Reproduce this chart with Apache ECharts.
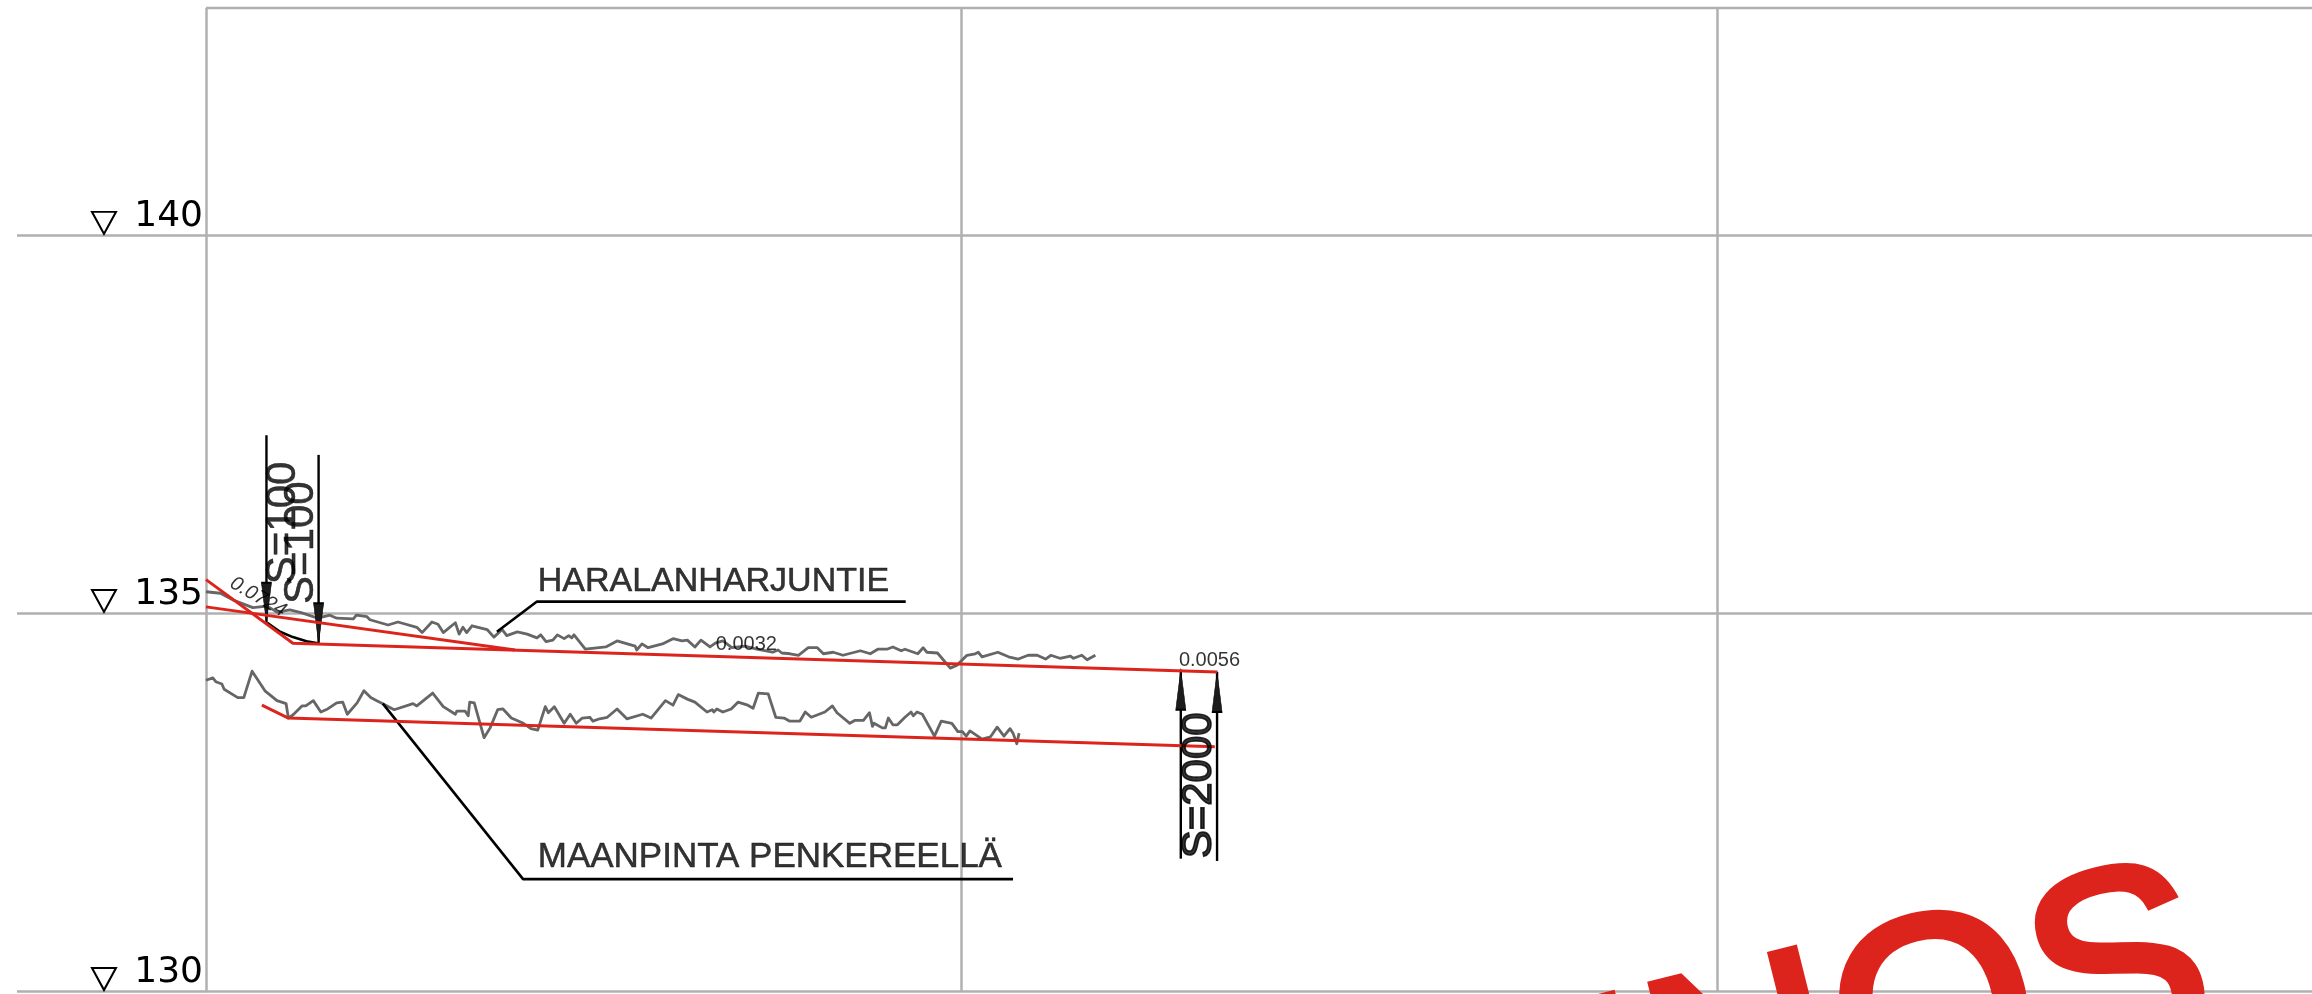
<!DOCTYPE html>
<html><head><meta charset="utf-8">
<style>html,body{margin:0;padding:0;background:#fff}#c{width:2312px;height:994px}</style>
<script src="https://cdn.jsdelivr.net/npm/echarts@6/dist/echarts.min.js"></script>
</head><body><div id="c"></div>
<script>
const levelTicks = [130, 135, 140];
const topLimit = [[0,143],[278.7,143]];
const roadSurface = [[0,135.44],[11.5,134.60],[133.8,134.22]];
const roadBranch = [[0,135.08],[40.9,134.51]];
const ditchLine = [[7.4,133.78],[10.9,133.61],[133.5,133.23]];
const curveLine = [[8.1,134.87],[9.8,134.75],[11.5,134.68],[13.5,134.62],[14.8,134.60]];
const groundRoad = [[0,135.28],[1.9,135.26],[3.6,135.17],[6.2,135.07],[8.1,135.09],[9.4,135.01],[11.1,135.04],[12.7,135.00],[14.8,134.93],[16.4,134.97],[17.3,134.93],[19.5,134.92],[19.9,134.97],[21.3,134.95],[21.7,134.91],[24.1,134.84],[25.4,134.88],[27.9,134.81],[28.6,134.74],[29.9,134.88],[30.7,134.85],[31.4,134.74],[33.0,134.87],[33.5,134.72],[34.0,134.81],[34.5,134.74],[35.2,134.83],[37.2,134.78],[38.1,134.68],[39.2,134.78],[39.8,134.70],[41.2,134.75],[42.5,134.72],[43.8,134.67],[44.3,134.71],[45.0,134.62],[45.9,134.64],[46.5,134.71],[47.4,134.66],[48.0,134.70],[48.4,134.67],[48.7,134.71],[50.2,134.52],[52.9,134.55],[54.4,134.63],[56.1,134.58],[56.8,134.56],[57.0,134.51],[57.7,134.59],[58.5,134.54],[60.4,134.59],[61.8,134.66],[63.0,134.63],[63.7,134.64],[64.7,134.55],[65.5,134.64],[66.7,134.55],[67.4,134.60],[68.4,134.63],[69.6,134.54],[71.3,134.56],[72.9,134.52],[75.0,134.48],[75.7,134.51],[76.2,134.47],[77.3,134.46],[78.4,134.44],[79.7,134.54],[80.9,134.54],[81.7,134.46],[83.0,134.48],[84.3,134.44],[86.6,134.50],[87.9,134.46],[88.9,134.52],[90.1,134.52],[90.9,134.55],[92.0,134.50],[92.5,134.52],[94.2,134.46],[94.9,134.54],[95.4,134.48],[96.8,134.47],[98.5,134.27],[99.4,134.31],[100.7,134.44],[101.8,134.46],[102.2,134.48],[102.7,134.42],[104.8,134.48],[106.2,134.42],[107.5,134.39],[108.8,134.44],[110.0,134.44],[111.1,134.39],[111.8,134.44],[113.0,134.40],[114.4,134.43],[114.8,134.40],[115.9,134.44],[116.6,134.38],[117.7,134.44]];
const groundEmbankment = [[0,134.11],[0.9,134.14],[1.3,134.09],[2.1,134.06],[2.4,133.99],[4.2,133.88],[5.0,133.88],[6.1,134.23],[7.8,133.97],[9.4,133.84],[10.6,133.80],[10.9,133.61],[11.5,133.65],[12.7,133.77],[13.2,133.77],[14.2,133.84],[15.2,133.69],[16.1,133.73],[17.3,133.81],[18.1,133.82],[18.7,133.66],[20.0,133.81],[20.9,133.97],[21.8,133.88],[22.6,133.84],[23.4,133.80],[24.9,133.72],[27.4,133.80],[27.9,133.77],[30.0,133.94],[31.4,133.76],[33.0,133.66],[33.2,133.70],[34.3,133.70],[34.7,133.64],[34.9,133.82],[35.5,133.81],[36.8,133.35],[37.6,133.48],[38.6,133.72],[39.3,133.73],[40.4,133.61],[42.0,133.54],[43.0,133.47],[43.9,133.45],[44.9,133.76],[45.3,133.68],[46.1,133.76],[47.4,133.54],[48.2,133.66],[49.0,133.54],[49.8,133.61],[50.8,133.62],[51.2,133.57],[52.1,133.60],[53.1,133.62],[54.4,133.73],[55.7,133.60],[57.8,133.66],[58.9,133.61],[60.8,133.84],[61.8,133.78],[62.5,133.92],[63.7,133.86],[64.7,133.82],[66.3,133.69],[67.0,133.72],[67.2,133.69],[67.6,133.73],[68.4,133.69],[69.5,133.73],[70.4,133.82],[71.7,133.78],[72.4,133.74],[73.1,133.94],[74.4,133.93],[75.4,133.62],[76.5,133.61],[77.2,133.57],[78.6,133.57],[79.3,133.69],[80.1,133.62],[81.9,133.69],[82.9,133.77],[83.5,133.68],[85.2,133.54],[85.9,133.58],[87.0,133.58],[87.8,133.68],[88.2,133.50],[88.4,133.54],[89.5,133.48],[89.9,133.48],[90.3,133.61],[90.9,133.52],[91.5,133.52],[92.5,133.62],[93.3,133.69],[93.6,133.64],[94.1,133.69],[94.8,133.66],[96.4,133.37],[97.3,133.57],[98.7,133.54],[99.5,133.43],[100.1,133.43],[100.6,133.37],[101.1,133.44],[102.7,133.33],[103.8,133.36],[104.7,133.49],[105.6,133.37],[106.4,133.47],[106.8,133.41],[107.3,133.27],[107.6,133.41]];
const leaderRoad = [[38.5,134.75],[43.8,135.15],[92.6,135.15]];
const leaderGround = [[23.4,133.80],[41.96,131.48],[106.8,131.48]];
const dimA = [[8.0,137.35],[8.0,134.87]];
const dimB = [[14.9,137.09],[14.9,134.60]];
const dimC = [[129.0,134.25],[129.0,131.75]];
const dimD = [[133.8,134.22],[133.8,131.72]];
const arrowsDown = [[8.0,134.87],[14.9,134.60]];
const arrowsUp = [[129.0,134.25],[133.8,134.22]];

const FONT = '"Liberation Sans", Arial, sans-serif';
const GRID = '#b0b0b0', RED = '#dc241c', GRAY = '#666666', BLACK = '#000000';
const clipFree = { silent: true, animation: false, z: 5 };

function line(data, color, width, z) {
  return Object.assign({}, clipFree, { type: 'line', data, symbol: 'none', clip: false, z: z || 5,
    lineStyle: { color, width, join: 'round' } });
}
function note(text, x, y, size, extra) {
  return Object.assign({}, clipFree, { type: 'scatter', symbolSize: 0, clip: false, z: 8,
    data: [[x, y]],
    label: Object.assign({ show: true, position: 'inside', formatter: text, fontFamily: FONT,
      fontSize: size, color: BLACK, align: 'center', verticalAlign: 'middle',
      textBorderColor: BLACK, textBorderWidth: 0.5 }, extra || {}) });
}
function arrows(data, rot, off) {
  return Object.assign({}, clipFree, { type: 'scatter', data, clip: false, symbol: 'triangle',
    symbolSize: [10, 40], symbolRotate: rot, symbolOffset: [0, off], z: 6,
    itemStyle: { color: '#1c1c1c', borderColor: BLACK, borderWidth: 1, opacity: 1 } });
}

const chart = echarts.init(document.getElementById('c'), null, { renderer: 'canvas' });
chart.setOption({
  animation: false,
  backgroundColor: '#ffffff',
  grid: { left: 206, right: 0, top: 8, bottom: 3, containLabel: false },
  xAxis: { type: 'value', min: 0, max: 278.7, interval: 100,
    axisLine: { show: false }, axisTick: { show: false }, axisLabel: { show: false },
    splitLine: { show: true, showMaxLine: false, lineStyle: { color: GRID, width: 2.5 } } },
  yAxis: { type: 'value', min: 130, max: 143, interval: 5,
    axisLine: { show: false },
    axisTick: { show: true, customValues: levelTicks, length: 189, lineStyle: { color: GRID, width: 2.5 } },
    axisLabel: { show: true, customValues: levelTicks, margin: 3, fontFamily: '"DejaVu Sans"', fontSize: 36,
      color: BLACK, verticalAlign: 'bottom', padding: [0, 0, 0, 0] },
    splitLine: { show: true, lineStyle: { color: GRID, width: 2.5 } } },
  series: [
    line(topLimit, GRID, 2.5, 1),
    Object.assign({}, clipFree, { type: 'scatter', clip: false, z: 6,
      data: levelTicks.map(v => [-13.5, v]), symbol: 'triangle', symbolRotate: 180, symbolSize: [24, 22], symbolOffset: [0, -12],
      itemStyle: { color: '#ffffff', borderColor: BLACK, borderWidth: 2, opacity: 1 } }),
    line(groundRoad, GRAY, 2.8),
    line(groundEmbankment, GRAY, 2.8),
    line(curveLine, BLACK, 2.6),
    line(leaderRoad, BLACK, 2.6),
    line(leaderGround, BLACK, 2.6),
    line(dimA, BLACK, 2.4),
    line(dimB, BLACK, 2.4),
    line(dimC, BLACK, 2.4),
    line(dimD, BLACK, 2.4),
    arrows(arrowsDown, 180, -20),
    arrows(arrowsUp, 0, 20),
    line(roadSurface, RED, 3, 7),
    line(roadBranch, RED, 3, 7),
    line(ditchLine, RED, 3, 7),
    note('HARALANHARJUNTIE', 43.9, 135.42, 34, { align: 'left' }),
    note('MAANPINTA PENKEREELLÄ', 43.9, 131.77, 35, { align: 'left' }),
    note('0.0032', 71.5, 134.58, 20, { textBorderWidth: 0 }),
    note('0.0056', 132.8, 134.37, 20, { textBorderWidth: 0 }),
    note('0.0724', 6.9, 135.21, 20, { rotate: -30, fontStyle: 'italic', textBorderWidth: 0 }),
    note('S=100', 10.25, 136.19, 42, { rotate: 90 }),
    note('S=100', 12.64, 135.93, 42, { rotate: 90 }),
    note('S=2000', 131.4, 132.72, 42, { rotate: 90, textBorderWidth: 1.6 })
  ],
  graphic: [{
    type: 'text', silent: true, z: 20,
    x: 2236, y: 1084, rotation: 14 * Math.PI / 180,
    style: { text: 'LUONNOS', font: '260px "Liberation Sans"', fill: '#dc241c', stroke: '#dc241c', lineWidth: 9,
      textAlign: 'right', textVerticalAlign: 'bottom', textBaseline: 'bottom' }
  }]
});
</script></body></html>
